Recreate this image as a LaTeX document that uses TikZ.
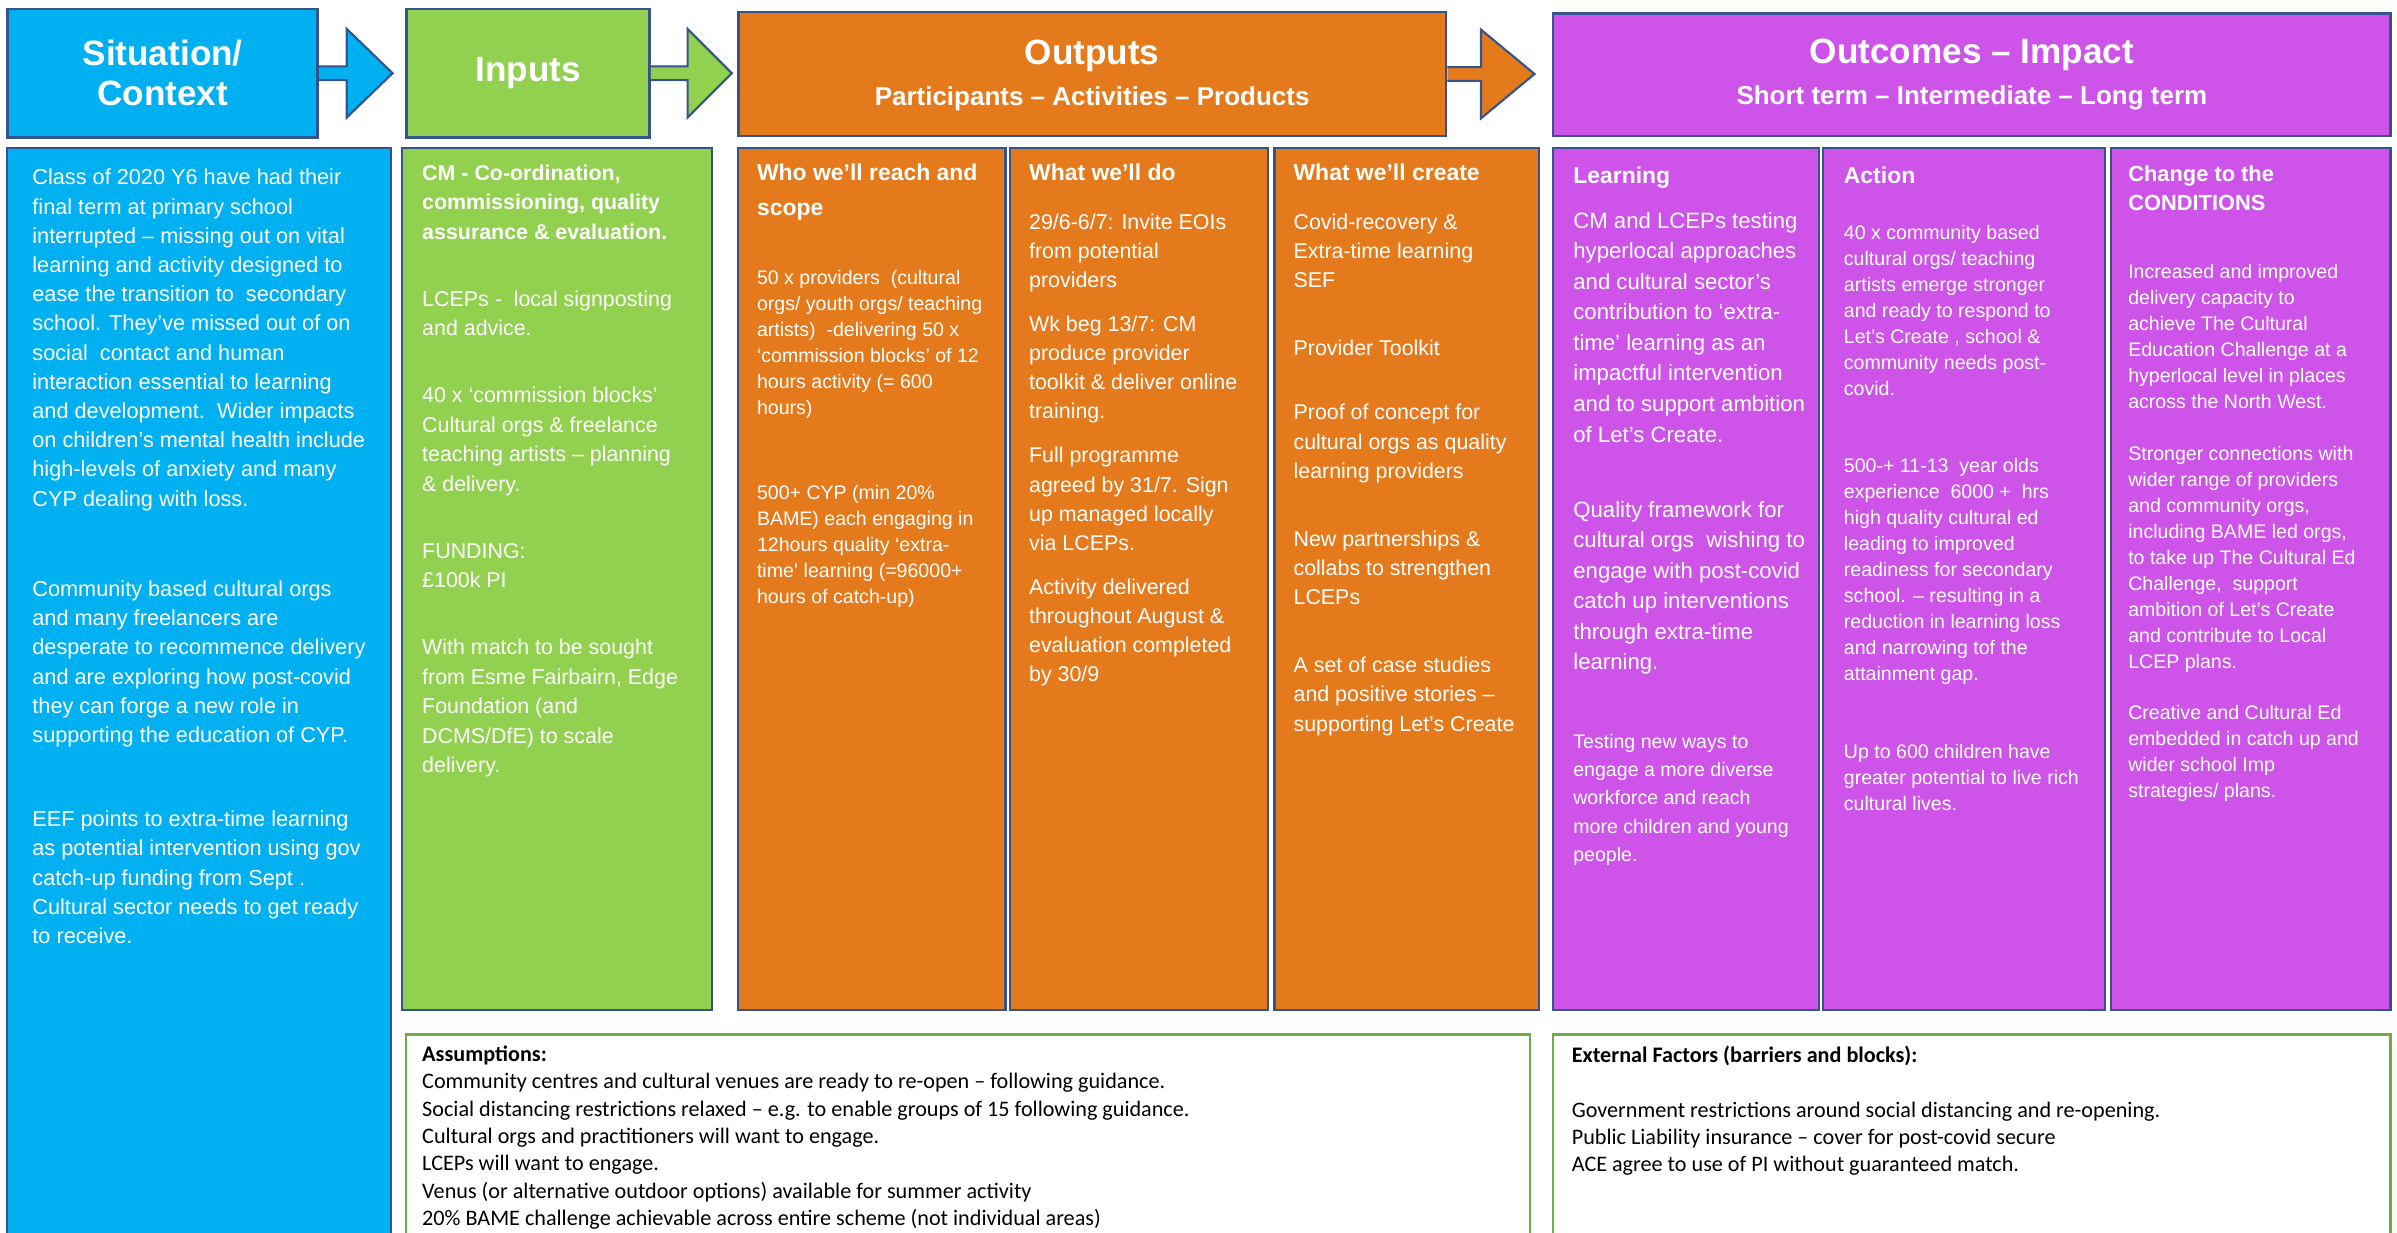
\documentclass[tikz,border=0pt]{standalone}
\usepackage{fontspec}
\setmainfont{Liberation Sans}
\newfontfamily\calibrifont{Carlito}
\usepackage{tikz}
\usetikzlibrary{positioning,calc}

\definecolor{sitblue}{RGB}{0,176,240}
\definecolor{ingreen}{RGB}{146,208,80}
\definecolor{outorange}{RGB}{228,122,27}
\definecolor{impurple}{RGB}{206,84,233}
\definecolor{edgeblue}{RGB}{52,84,140}
\definecolor{edgegreen}{RGB}{112,173,71}

\tikzset{
  box/.style={draw=edgeblue, line width=1.4pt, inner sep=0pt, anchor=north west},
  hdtitle/.style={text=white, font=\bfseries\fontsize{23}{26}\selectfont, align=center},
  hdsub/.style={text=white, font=\bfseries\fontsize{17}{20}\selectfont},
  coltitle/.style={text=white, font=\bfseries\fontsize{15}{23}\selectfont, align=left, anchor=north west, inner sep=0pt},
  coltext/.style={text=white, align=left, anchor=north west, inner sep=0pt},
  notebox/.style={draw=edgegreen, line width=1.4pt, fill=white, inner sep=0pt, anchor=north west},
  notetext/.style={font=\calibrifont\fontsize{14.5}{17.9}\selectfont, align=left, anchor=north west, inner sep=0pt},
  hdarrow/.style={draw=edgeblue, line width=1.4pt, line join=miter},
}

\begin{document}
\begin{tikzpicture}[x=1pt,y=-1pt]
\useasboundingbox (0,0) rectangle (1568,806);
\clip (0,0) rectangle (1568,806);

% header row
\node[box, line width=1.8pt, fill=sitblue, minimum width=203, minimum height=84] (sithd) at (4,5) {};
\node[box, line width=1.8pt, fill=ingreen, minimum width=159, minimum height=84] (inhd) at (265,5) {};
\node[box, line width=1.8pt, fill=outorange, minimum width=463, minimum height=81] (outhd) at (482,7) {};
\node[box, line width=1.8pt, fill=impurple, minimum width=548, minimum height=80] (imphd) at (1015,8) {};

\foreach \hd/\hdfill/\hb/\tp in {sithd/sitblue/18/48, inhd/ingreen/24/53, outhd/outorange/22/57}
  \filldraw[hdarrow, fill=\hdfill] ($(\hd.east)+(0,-4.5)$) -- ++(\hb,0) -- ++(0,-24.5)
    -- ($(\hd.east)+(\tp,0)$) -- ($(\hd.east)+(\hb,29)$) -- ++(0,-24.5) -- ($(\hd.east)+(0,4.5)$);

\node[hdtitle] (sittitle) at (sithd.center) {Situation/\\Context};
\node[hdtitle] (intitle) at (inhd.center) {Inputs};
\node[hdtitle] (outtitle) at ([yshift=12]outhd.center) {Outputs};
\node[hdsub] (outsub) at ([yshift=-16]outhd.center) {Participants – Activities – Products};
\node[hdtitle] (imptitle) at ([yshift=13]imphd.center) {Outcomes – Impact};
\node[hdsub] (impsub) at ([yshift=-15]imphd.center) {Short term – Intermediate – Long term};

% columns
\node[box, fill=sitblue, minimum width=251, minimum height=730] (sitbody) at (4,96) {};
\foreach \bx/\bxx/\bw/\bc in {inbody/262/203/ingreen, reach/482/175/outorange,
    doit/660/169/outorange, create/833/173/outorange, learn/1015/174/impurple,
    action/1192/184/impurple, cond/1380/183/impurple}
  \node[box, fill=\bc, minimum width=\bw, minimum height=564] (\bx) at (\bxx,96) {};

\node[coltext, font=\fontsize{14.2}{19.1}\selectfont] (sittext) at (21,110.5) {%
Class of 2020 Y6 have had their\\
final term at primary school\\
interrupted – missing out on vital\\
learning and activity designed to\\
ease the transition to\ \ secondary\\
school. They’ve missed out of on\\
social\ \ contact and human\\
interaction essential to learning\\
and development.\ \ Wider impacts\\
on children’s mental health include\\
high-levels of anxiety and many\\
CYP dealing with loss.\\[40pt]
Community based cultural orgs\\
and many freelancers are\\
desperate to recommence delivery\\
and are exploring how post-covid\\
they can forge a new role in\\
supporting the education of CYP.\\[36pt]
EEF points to extra-time learning\\
as potential intervention using gov\\
catch-up funding from Sept .\\
Cultural sector needs to get ready\\
to receive.};

\node[coltext, font=\fontsize{14}{19.3}\selectfont] (intext) at (276,107.5) {%
\textbf{CM - Co-ordination,}\\
\textbf{commissioning, quality}\\
\textbf{assurance \& evaluation.}\\[24.5pt]
LCEPs -\ \ local signposting\\
and advice.\\[24.5pt]
40 x ‘commission blocks’\\
Cultural orgs \& freelance\\
teaching artists – planning\\
\& delivery.\\[24.5pt]
FUNDING:\\
£100k PI\\[24.5pt]
With match to be sought\\
from Esme Fairbairn, Edge\\
Foundation (and\\
DCMS/DfE) to scale\\
delivery.};

\node[coltitle] (reachtitle) at (495,107) {Who we’ll reach and\\scope};
\node[coltext, font=\fontsize{12.8}{17}\selectfont] (reachtext) at (495,176.5) {%
50 x providers\ \ (cultural\\
orgs/ youth orgs/ teaching\\
artists)\ \ -delivering 50 x\\
‘commission blocks’ of 12\\
hours activity (= 600\\
hours)\\[39pt]
500+ CYP (min 20\%\\
BAME) each engaging in\\
12hours quality ‘extra-\\
time’ learning (=96000+\\
hours of catch-up)};

\node[coltitle] (dotitle) at (673,107) {What we’ll do};
\node[coltext, font=\fontsize{14}{19}\selectfont] (dotext) at (673,139.5) {%
29/6-6/7: Invite EOIs\\
from potential\\
providers\\[10pt]
Wk beg 13/7: CM\\
produce provider\\
toolkit \& deliver online\\
training.\\[10pt]
Full programme\\
agreed by 31/7. Sign\\
up managed locally\\
via LCEPs.\\[10pt]
Activity delivered\\
throughout August \&\\
evaluation completed\\
by 30/9};

\node[coltitle] (createtitle) at (846,107) {What we’ll create};
\node[coltext, font=\fontsize{14}{19.2}\selectfont] (createtext) at (846,139.5) {%
Covid-recovery \&\\
Extra-time learning\\
SEF\\[25pt]
Provider Toolkit\\[23pt]
Proof of concept for\\
cultural orgs as quality\\
learning providers\\[25pt]
New partnerships \&\\
collabs to strengthen\\
LCEPs\\[25pt]
A set of case studies\\
and positive stories –\\
supporting Let’s Create};

\node[coltitle] (learntitle) at (1029,108.8) {Learning};
\node[coltext, font=\fontsize{14.5}{20}\selectfont] (learntext) at (1029,138.5) {%
CM and LCEPs testing\\
hyperlocal approaches\\
and cultural sector’s\\
contribution to ‘extra-\\
time’ learning as an\\
impactful intervention\\
and to support ambition\\
of Let’s Create.\\[29pt]
Quality framework for\\
cultural orgs\ \ wishing to\\
engage with post-covid\\
catch up interventions\\
through extra-time\\
learning.};
\node[coltext, font=\fontsize{12.8}{18.5}\selectfont] (learnmore) at (1029,480) {%
Testing new ways to\\
engage a more diverse\\
workforce and reach\\
more children and young\\
people.};

\node[coltitle] (actiontitle) at (1206,109) {Action};
\node[coltext, font=\fontsize{12.8}{17}\selectfont] (actiontext) at (1206,147.5) {%
40 x community based\\
cultural orgs/ teaching\\
artists emerge stronger\\
and ready to respond to\\
Let’s Create , school \&\\
community needs post-\\
covid.\\[33pt]
500-+ 11-13\ \ year olds\\
experience\ \ 6000 +\ \ hrs\\
high quality cultural ed\\
leading to improved\\
readiness for secondary\\
school. – resulting in a\\
reduction in learning loss\\
and narrowing tof the\\
attainment gap.\\[34pt]
Up to 600 children have\\
greater potential to live rich\\
cultural lives.};

\node[coltitle, font=\bfseries\fontsize{14.3}{19}\selectfont] (condtitle) at (1392,108.3) {Change to the\\CONDITIONS};
\node[coltext, font=\fontsize{12.8}{17}\selectfont] (condtext) at (1392,172.5) {%
Increased and improved\\
delivery capacity to\\
achieve The Cultural\\
Education Challenge at a\\
hyperlocal level in places\\
across the North West.\\[17pt]
Stronger connections with\\
wider range of providers\\
and community orgs,\\
including BAME led orgs,\\
to take up The Cultural Ed\\
Challenge,\ \ support\\
ambition of Let’s Create\\
and contribute to Local\\
LCEP plans.\\[17pt]
Creative and Cultural Ed\\
embedded in catch up and\\
wider school Imp\\
strategies/ plans.};

% assumptions and external factors
\node[notebox, minimum width=735, minimum height=150] (assume) at (265,676) {};
\node[notebox, minimum width=548, minimum height=150] (extern) at (1015,676) {};

\node[notetext] (assumetext) at (276,684) {%
\textbf{Assumptions:}\\
Community centres and cultural venues are ready to re-open – following guidance.\\
Social distancing restrictions relaxed – e.g. to enable groups of 15 following guidance.\\
Cultural orgs and practitioners will want to engage.\\
LCEPs will want to engage.\\
Venus (or alternative outdoor options) available for summer activity\\
20\% BAME challenge achievable across entire scheme (not individual areas)};

\node[notetext] (externtext) at (1028,684) {%
\textbf{External Factors (barriers and blocks):}\\[17.9pt]
Government restrictions around social distancing and re-opening.\\
Public Liability insurance – cover for post-covid secure\\
ACE agree to use of PI without guaranteed match.};
\end{tikzpicture}
\end{document}
